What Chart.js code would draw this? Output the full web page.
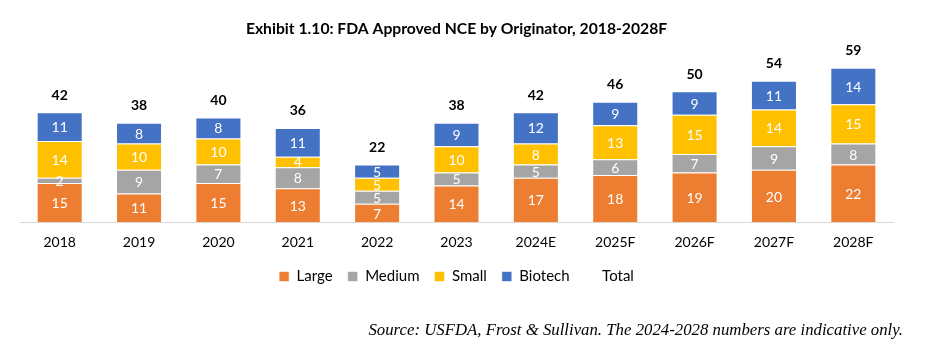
<!DOCTYPE html>
<html>
<head>
<meta charset="utf-8">
<script src="https://cdn.jsdelivr.net/npm/chart.js@4"></script>
<style>
  html, body { margin: 0; padding: 0; background: #fff; }
  #wrap { position: relative; width: 932px; height: 347px; }
</style>
</head>
<body>
<div id="wrap"><canvas id="nceChart" width="932" height="347"></canvas></div>
<script>
// Exhibit 1.10 - FDA approved NCE by originator

const years = ['2018', '2019', '2020', '2021', '2022', '2023', '2024E', '2025F', '2026F', '2027F', '2028F'];
const large = [15, 11, 15, 13, 7, 14, 17, 18, 19, 20, 22];
const medium = [2, 9, 7, 8, 5, 5, 5, 6, 7, 9, 8];
const small = [14, 10, 10, 4, 5, 10, 8, 13, 15, 14, 15];
const biotech = [11, 8, 8, 11, 5, 9, 12, 9, 9, 11, 14];
const totals = [42, 38, 40, 36, 22, 38, 42, 46, 50, 54, 59];

const FONT = 'Lato, "Open Sans", sans-serif';

// white numbers inside the segments + bold totals on top
const stackLabels = {
    id: 'stackLabels',
    afterDatasetsDraw(chart) {
        const ctx = chart.ctx;
        ctx.save();
        ctx.textAlign = 'center';
        ctx.textBaseline = 'middle';
        chart.data.datasets.forEach((ds, i) => {
            const meta = chart.getDatasetMeta(i);
            if (meta.hidden) return;
            if (ds.type === 'line') {
                ctx.fillStyle = '#000';
                ctx.font = 'bold 14px ' + FONT;
                meta.data.forEach((pt, j) => {
                    ctx.fillText(ds.data[j], pt.x, pt.y - 17);
                });
            } else {
                ctx.fillStyle = '#fff';
                ctx.font = '14px ' + FONT;
                meta.data.forEach((bar, j) => {
                    ctx.fillText(ds.data[j], bar.x, (bar.y + bar.base) / 2 + 1);
                });
            }
        });
        ctx.restore();
    }
};

// source note in the bottom right corner
const sourceNote = {
    id: 'sourceNote',
    afterDraw(chart) {
        const ctx = chart.ctx;
        ctx.save();
        ctx.font = 'italic 16.8px "Liberation Serif", "Times New Roman", serif';
        ctx.fillStyle = '#000';
        ctx.textAlign = 'right';
        ctx.textBaseline = 'middle';
        ctx.fillText('Source: USFDA, Frost & Sullivan. The 2024-2028 numbers are indicative only.', 903, 331);
        ctx.restore();
    }
};

function barSet(label, data, color) {
    return {
        type: 'bar',
        label: label,
        data: data,
        backgroundColor: color,
        borderColor: 'rgba(255,255,255,0.55)',
        borderWidth: 1,
        stack: 'nce',
        barPercentage: 0.58,
        categoryPercentage: 1.0
    };
}

new Chart(document.getElementById('nceChart'), {
    data: {
        labels: years,
        datasets: [
            barSet('Large', large, '#ED7D31'),
            barSet('Medium', medium, '#A5A5A5'),
            barSet('Small', small, '#FFC000'),
            barSet('Biotech', biotech, '#4472C4'),
            {
                type: 'line',
                label: 'Total',
                data: totals,
                stack: 'total',
                showLine: false,
                pointRadius: 0,
                borderColor: 'rgba(0,0,0,0)',
                backgroundColor: 'rgba(0,0,0,0)'
            }
        ]
    },
    options: {
        responsive: false,
        animation: false,
        layout: {
            padding: { top: 8, left: 20, right: 39, bottom: 53 }
        },
        plugins: {
            title: {
                display: true,
                text: 'Exhibit 1.10: FDA Approved NCE by Originator, 2018-2028F',
                color: '#000',
                font: { family: FONT, size: 15.7, weight: 'bold' },
                padding: { top: 12, bottom: 0 }
            },
            legend: {
                position: 'bottom',
                labels: {
                    color: '#000',
                    font: { family: FONT, size: 15 },
                    boxWidth: 10,
                    boxHeight: 10,
                    padding: 15
                }
            },
            tooltip: { enabled: false }
        },
        scales: {
            x: {
                stacked: true,
                grid: { display: false, drawTicks: false },
                border: { display: true, color: '#D9D9D9', width: 1 },
                ticks: {
                    color: '#000',
                    font: { family: FONT, size: 14 },
                    padding: 12
                },
                afterFit(scale) {
                    // pull the legend up closer to the tick labels
                    scale.height -= 9;
                }
            },
            y: {
                stacked: true,
                display: false,
                min: 0,
                max: 70
            }
        }
    },
    plugins: [stackLabels, sourceNote]
});
</script>
</body>
</html>
